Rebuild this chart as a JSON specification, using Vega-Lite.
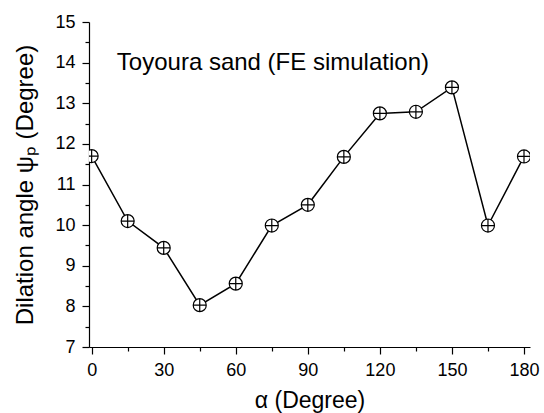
{
  "$schema": "https://vega.github.io/schema/vega-lite/v6.json",
  "autosize": "none",
  "width": 441,
  "height": 325,
  "padding": {"left": 89, "top": 22, "right": 14, "bottom": 66},
  "background": "white",
  "config": {
    "view": {"stroke": null},
    "font": "Liberation Sans",
    "axis": {"grid": false, "domainColor": "black", "tickColor": "black", "labelColor": "black", "titleColor": "black", "labelFont": "Liberation Sans", "titleFont": "Liberation Sans", "domainWidth": 1.2, "tickWidth": 1.2}
  },
  "datasets": {
    "pts": [
      {"alpha": 0, "psi": 11.7},
      {"alpha": 15, "psi": 10.1},
      {"alpha": 30, "psi": 9.44},
      {"alpha": 45, "psi": 8.03},
      {"alpha": 60, "psi": 8.56},
      {"alpha": 75, "psi": 9.99},
      {"alpha": 90, "psi": 10.5},
      {"alpha": 105, "psi": 11.68},
      {"alpha": 120, "psi": 12.75},
      {"alpha": 135, "psi": 12.79},
      {"alpha": 150, "psi": 13.39},
      {"alpha": 165, "psi": 9.99},
      {"alpha": 180, "psi": 11.69}
    ],
    "note": [{"alpha": 10.5, "psi": 14.0, "label": "Toyoura sand (FE simulation)"}]
  },
  "resolve": {"axis": {"x": "independent", "y": "independent"}},
  "layer": [
    {
      "data": {"name": "pts"},
      "mark": {"type": "line", "color": "black", "strokeWidth": 1.5, "clip": true},
      "encoding": {
        "x": {"field": "alpha", "type": "quantitative", "scale": {"domain": [-1.1, 182.5], "nice": false, "zero": false},
          "axis": {"orient": "bottom", "values": [0, 30, 60, 90, 120, 150, 180], "tickSize": 7, "labelFontSize": 18, "labelPadding": 7, "title": "α (Degree)", "titleFontSize": 23, "titleFontWeight": "normal", "titlePadding": 10, "labelFlush": false}},
        "y": {"field": "psi", "type": "quantitative", "scale": {"domain": [7, 15], "nice": false, "zero": false},
          "axis": {"orient": "left", "values": [7, 8, 9, 10, 11, 12, 13, 14, 15], "tickSize": 7, "labelFontSize": 18, "labelPadding": 7, "title": "Dilation angle ψₚ (Degree)", "titleFontSize": 24, "titleFontWeight": "normal", "titlePadding": 17, "labelFlush": false}}
      }
    },
    {
      "data": {"name": "pts"},
      "mark": {"type": "point", "shape": "M-1,0A1,1 0 1,0 1,0A1,1 0 1,0 -1,0ZM-1,0H1M0,-1V1", "filled": false, "fill": "white", "fillOpacity": 1, "stroke": "black", "strokeWidth": 1.2, "opacity": 1, "size": 170, "clip": true},
      "encoding": {
        "x": {"field": "alpha", "type": "quantitative", "axis": {"orient": "bottom", "values": [15, 45, 75, 105, 135, 165], "tickSize": 4, "labels": false, "domain": false, "title": null}},
        "y": {"field": "psi", "type": "quantitative", "axis": {"orient": "left", "values": [7.5, 8.5, 9.5, 10.5, 11.5, 12.5, 13.5, 14.5], "tickSize": 4, "labels": false, "domain": false, "title": null}}
      }
    },
    {
      "data": {"name": "note"},
      "mark": {"type": "text", "align": "left", "baseline": "middle", "fontSize": 24, "font": "Liberation Sans", "color": "black"},
      "encoding": {
        "x": {"field": "alpha", "type": "quantitative", "axis": null},
        "y": {"field": "psi", "type": "quantitative", "axis": null},
        "text": {"field": "label"}
      }
    }
  ]
}
